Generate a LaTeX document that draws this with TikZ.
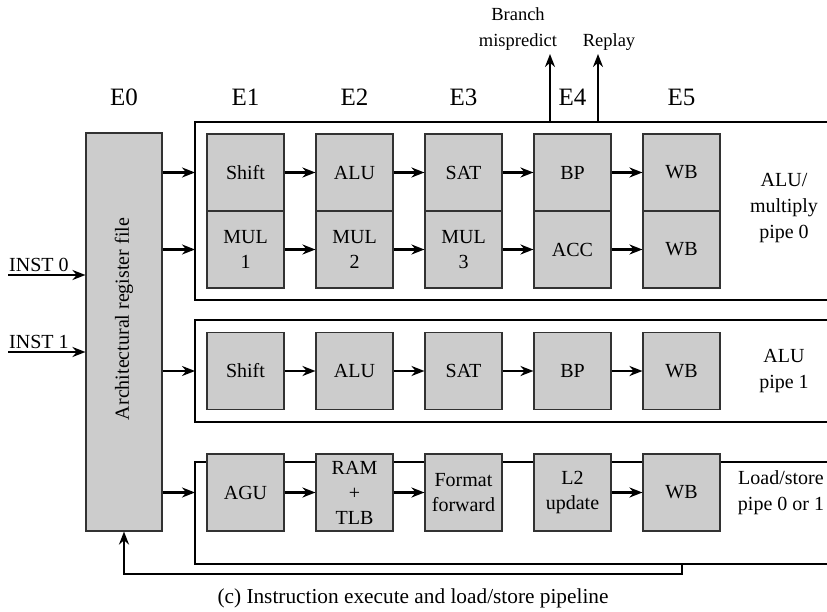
\documentclass[tikz,border=0pt]{standalone}
\usepackage{fontspec}
\setmainfont{Liberation Serif}
\usetikzlibrary{arrows.meta,positioning,calc}

\definecolor{stagegray}{RGB}{204,204,204}
\definecolor{edgegray}{RGB}{50,50,50}

\begin{document}
\begin{tikzpicture}[x=1pt, y=-1pt, >={Stealth[length=13pt,width=10pt]},
    stage/.style={draw=edgegray, line width=1.1pt, fill=stagegray, minimum width=77pt,
        minimum height=77pt, inner sep=0pt, align=center, font=\fontsize{20}{25}\selectfont},
    flow/.style={->, line width=2.4pt},
    frame/.style={draw=black, line width=1.3pt},
    txt/.style={align=center, inner sep=0pt, font=\fontsize{20}{26}\selectfont},
    ename/.style={inner sep=0pt, font=\fontsize{25}{28}\selectfont}]
    \useasboundingbox (0,0) rectangle (827,612);

    % 寄存器堆
    \node[draw=edgegray, line width=1.1pt, fill=stagegray, minimum width=76pt,
        minimum height=398pt, inner sep=0pt] (rf) at (124,332) {};
    \node[txt, rotate=90] (rftext) at (124,319) {Architectural register file};

    % 流水线外框 (右侧开口)
    \coordinate (pipeL) at (195,0);
    \draw[frame] (827,122) -- (195,122) -- (195,300) -- (827,300);
    \draw[frame] (827,320) -- (195,320) -- (195,422) -- (827,422);
    \draw[frame] (827,462) -- (195,462) -- (195,564) -- (827,564);

    % ALU/multiply pipe 0
    \node[stage] (sh0) at (245.5,172.5) {Shift};
    \node[stage] (al0) at (354.5,172.5) {ALU};
    \node[stage] (sa0) at (463.5,172.5) {SAT};
    \node[stage] (bp0) at (572.5,172.5) {BP};
    \node[stage] (wb0) at (681.5,172.5) {WB};
    \node[stage] (mu1) at (245.5,249.5) {MUL\\1};
    \node[stage] (mu2) at (354.5,249.5) {MUL\\2};
    \node[stage] (mu3) at (463.5,249.5) {MUL\\3};
    \node[stage] (acc) at (572.5,249.5) {ACC};
    \node[stage] (wb1) at (681.5,249.5) {WB};

    % ALU pipe 1
    \node[stage] (sh2) at (245.5,371) {Shift};
    \node[stage] (al2) at (354.5,371) {ALU};
    \node[stage] (sa2) at (463.5,371) {SAT};
    \node[stage] (bp2) at (572.5,371) {BP};
    \node[stage] (wb2) at (681.5,371) {WB};

    % Load/store pipe
    \node[stage] (agu) at (245.5,492.5) {AGU};
    \node[stage] (ram) at (354.5,492.5) {RAM\\+\\TLB};
    \node[stage] (fmt) at (463.5,492.5) {Format\\forward};
    \node[stage] (l2u) at (572.5,492.5) {L2\\update};
    \node[stage] (wb3) at (681.5,492.5) {WB};

    % 级间箭头
    \foreach \a/\b in {sh0/al0, al0/sa0, sa0/bp0, bp0/wb0, mu1/mu2, mu2/mu3, mu3/acc, acc/wb1,
        sh2/al2, al2/sa2, sa2/bp2, bp2/wb2, agu/ram, ram/fmt, l2u/wb3}
        \draw[flow] (\a.east) -- (\b.west);

    % 寄存器堆 -> 各流水线
    \foreach \s in {sh0, mu1, sh2, agu}
        \draw[flow] (rf.east |- \s.west) -- (pipeL |- \s.west);

    % 指令输入
    \coordinate (in0) at (8,275);
    \coordinate (in1) at (8,352);
    \draw[flow] (in0) -- (rf.west |- in0);
    \draw[flow] (in1) -- (rf.west |- in1);
    \node[txt, anchor=south west] (inst0) at ($(in0)+(1,-3)$) {INST 0};
    \node[txt, anchor=south west] (inst1) at ($(in1)+(1,-3)$) {INST 1};

    % 级名
    \node[ename] (e0) at (124,97) {E0};
    \foreach \n/\x in {1/245.5, 2/354.5, 3/463.5, 4/572.5, 5/681.5}
        \node[ename] (e\n) at (\x,97) {E\n};

    % 分支误预测 / 重放
    \coordinate (bm) at (550,122);
    \coordinate (rp) at (598,122);
    \node[txt, font=\fontsize{18.5}{26}\selectfont] (brl) at (518,29) {Branch\\mispredict};
    \node[txt, font=\fontsize{18.5}{26}\selectfont] (rpl) at (609,42) {Replay};
    \draw[flow] (bm) -- (bm |- 0,54);
    \draw[flow] (rp) -- (rp |- 0,54);

    % 流水线名
    \node[txt] (p0name) at (784,208) {ALU/\\multiply\\pipe 0};
    \node[txt] (p1name) at (784,371) {ALU\\pipe 1};
    \node[txt] (lsname) at (781,493) {Load/store\\pipe 0 or 1};

    % 回写到寄存器堆
    \coordinate (fb) at (682,564);
    \draw[flow] (fb) -- (682,574) -| (rf.south);

    \node[txt, font=\fontsize{21.3}{26}\selectfont] (caption) at (413,598) {(c) Instruction execute and load/store pipeline};
\end{tikzpicture}
\end{document}
